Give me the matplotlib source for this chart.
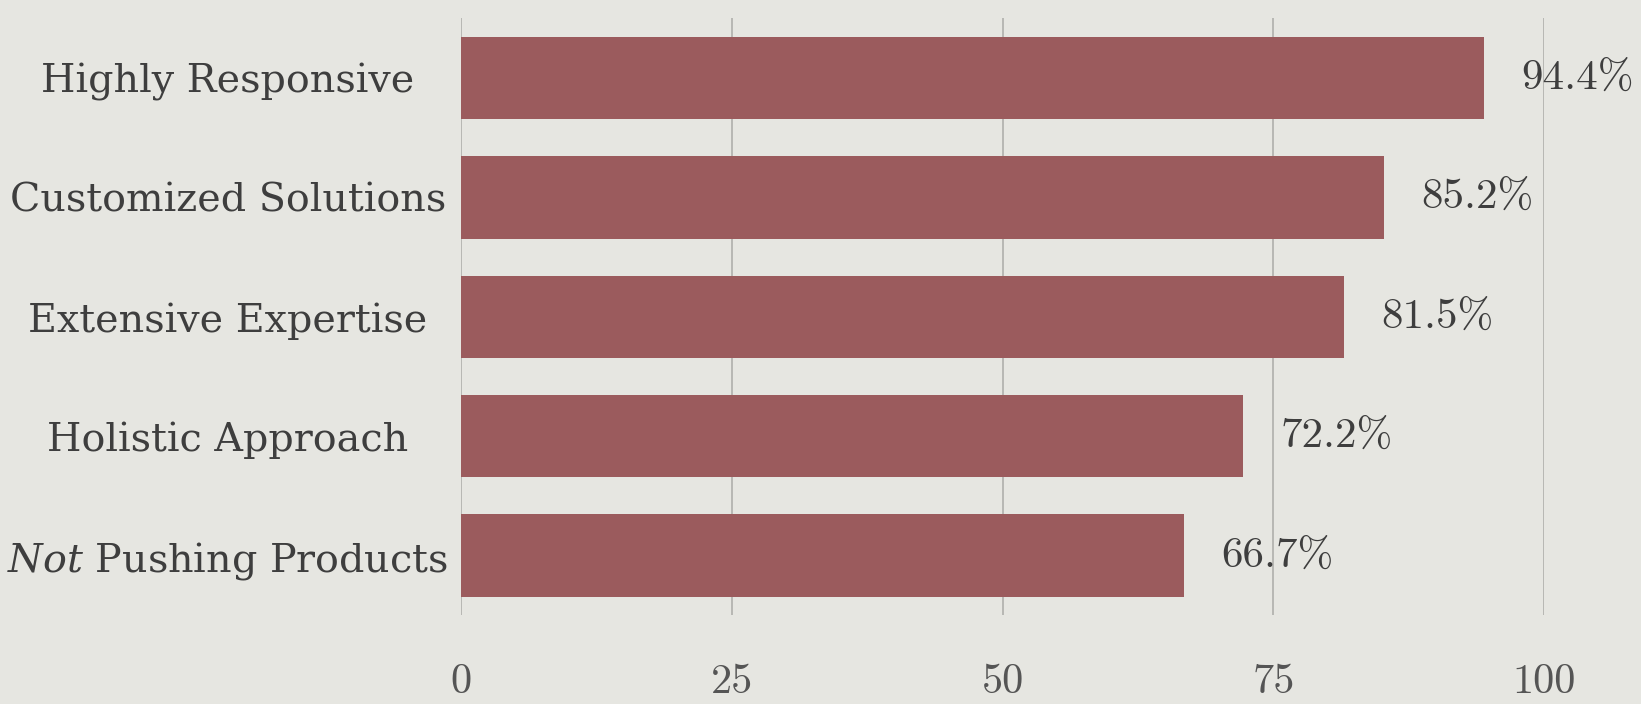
import matplotlib
matplotlib.use("Agg")
from matplotlib import pyplot as plt

# Survey results, top to bottom
categories = [
    "Highly Responsive",
    "Customized Solutions",
    "Extensive Expertise",
    "Holistic Approach",
    r"$\mathit{Not}$ Pushing Products",
]
values = [94.4, 85.2, 81.5, 72.2, 66.7]
x_ticks = [0, 25, 50, 75, 100]

bg_color = "#e6e6e1"
bar_color = "#9b5b5d"
text_color = "#3e3e3e"

plt.rcParams["mathtext.fontset"] = "dejavuserif"

fig = plt.figure(figsize=(16.41, 7.04), dpi=100, facecolor=bg_color)
ax = fig.add_axes([0.281, 0.126, 0.660, 0.848])
ax.set_facecolor(bg_color)

positions = list(range(len(categories)))
ax.barh(positions, values, height=0.69, color=bar_color, zorder=3)

ax.set_xlim(0, 100)
ax.set_ylim(len(categories) - 0.5, -0.5)

# Vertical gridlines only
ax.set_xticks(x_ticks)
ax.grid(axis="x", color="#b4b4b0", linewidth=1.3, zorder=0)
for side in ["top", "right", "bottom", "left"]:
    ax.spines[side].set_visible(False)

ax.tick_params(axis="x", length=0, pad=35, labelsize=30.5, labelcolor="#555555")
for lbl in ax.get_xticklabels():
    lbl.set_fontfamily("cmr10")

ax.set_yticks(positions)
ax.set_yticklabels(categories, ha="center", fontfamily="DejaVu Serif",
                   fontsize=28.5, color=text_color)
ax.tick_params(axis="y", length=0, pad=168)

# Value labels to the right of each bar
for pos, val in zip(positions, values):
    ax.annotate(f"{val:.1f}%", xy=(val, pos), xytext=(27, 0),
                textcoords="offset points", va="center", ha="left",
                fontsize=31, fontfamily="cmr10", color=text_color)

plt.savefig("out.png", dpi=100, facecolor=bg_color)
